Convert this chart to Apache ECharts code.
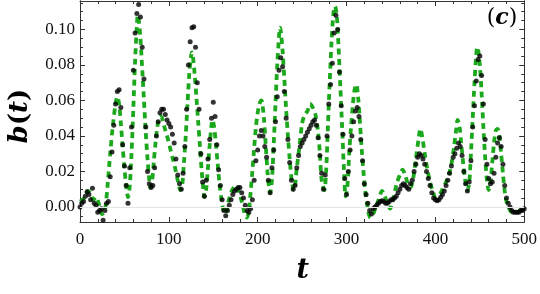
<!DOCTYPE html>
<html>
<head>
<meta charset="utf-8">
<script src="https://cdn.jsdelivr.net/npm/echarts@6/dist/echarts.min.js"></script>
<style>html,body{margin:0;padding:0;background:#fff}#c{width:540px;height:294px}</style>
</head>
<body>
<div id="c"></div>
<script>
// ---- data ----
const xTicks = [0, 100, 200, 300, 400, 500];
const yMajor = [0, 0.02, 0.04, 0.06, 0.08, 0.10];
const yMinor = [-0.005, 0.005, 0.01, 0.015, 0.025, 0.03, 0.035, 0.045, 0.05, 0.055, 0.065, 0.07, 0.075, 0.085, 0.09, 0.095, 0.105, 0.11, 0.115];

// green dashed curve [t, b]
const greenCurve = [[0,0.003],[3,0.004],[6,0.006],[9,0.009],[12,0.0075],[15,0.004],[18,0.0055],[21,0.002],[25,-0.004],[28,-0.002],[31,0.012],[34,0.030],[37,0.046],[40,0.058],[42,0.062],[44,0.058],[46,0.047],[48,0.034],[50,0.022],[52,0.012],[54,0.0055],[56,0.012],[58,0.030],[60,0.055],[62,0.082],[64,0.102],[65,0.108],[66,0.106],[68,0.095],[70,0.078],[72,0.060],[74,0.042],[76,0.027],[78,0.015],[79,0.011],[81,0.014],[83,0.025],[85,0.036],[87,0.045],[89,0.050],[91,0.051],[93,0.049],[95,0.045],[98,0.040],[101,0.034],[104,0.028],[107,0.022],[110,0.015],[113,0.0095],[115,0.012],[117,0.025],[119,0.040],[121,0.058],[123,0.075],[125,0.085],[126,0.087],[127,0.085],[129,0.075],[131,0.062],[133,0.048],[135,0.034],[137,0.020],[139,0.009],[140,0.0055],[142,0.010],[144,0.022],[146,0.035],[148,0.046],[149,0.049],[151,0.045],[153,0.035],[155,0.024],[157,0.013],[159,0.005],[161,-0.001],[163,-0.004],[165,-0.002],[167,0.003],[170,0.008],[173,0.011],[176,0.012],[178,0.010],[181,0.005],[184,-0.001],[186,-0.005],[188,-0.006],[190,-0.002],[192,0.008],[194,0.020],[196,0.033],[198,0.045],[200,0.053],[202,0.058],[204,0.060],[205,0.059],[207,0.050],[209,0.035],[211,0.020],[213,0.010],[214,0.008],[216,0.015],[218,0.035],[220,0.058],[222,0.080],[224,0.096],[225,0.101],[226,0.099],[228,0.088],[230,0.072],[232,0.055],[234,0.040],[236,0.027],[238,0.016],[240,0.010],[241,0.0095],[244,0.022],[247,0.034],[250,0.047],[253,0.052],[256,0.054],[259,0.058],[262,0.056],[265,0.052],[268,0.042],[270,0.030],[272,0.015],[275,0.0095],[277,0.020],[279,0.045],[281,0.070],[283,0.092],[285,0.108],[287,0.113],[289,0.108],[291,0.090],[293,0.068],[295,0.045],[297,0.022],[299,0.006],[301,0.012],[303,0.030],[305,0.045],[307,0.057],[309,0.066],[311,0.069],[313,0.062],[315,0.048],[317,0.033],[319,0.020],[321,0.009],[323,0.002],[325,-0.004],[327,-0.006],[330,-0.004],[333,0.000],[336,0.004],[340,0.009],[343,0.006],[346,0.002],[349,-0.001],[352,0.004],[355,0.010],[357,0.014],[360,0.018],[363,0.021],[366,0.018],[369,0.013],[372,0.011],[375,0.016],[378,0.027],[381,0.038],[383,0.044],[385,0.040],[388,0.030],[391,0.021],[394,0.014],[397,0.009],[400,0.0055],[403,0.006],[406,0.008],[409,0.011],[412,0.014],[415,0.018],[418,0.024],[421,0.034],[423,0.042],[425,0.049],[427,0.046],[429,0.036],[431,0.026],[433,0.017],[435,0.011],[436,0.0095],[438,0.013],[440,0.030],[442,0.050],[444,0.070],[446,0.086],[447,0.090],[448,0.089],[450,0.080],[452,0.064],[454,0.045],[456,0.028],[458,0.015],[460,0.0095],[462,0.014],[464,0.025],[466,0.036],[468,0.043],[470,0.044],[472,0.040],[474,0.030],[476,0.019],[478,0.009],[480,0.003],[483,-0.001],[486,-0.003],[489,-0.003],[492,-0.003],[495,-0.002],[498,-0.001],[500,0.000]];

// black sample dots [t, b]
const blackDots = [[0,0.000],[2,0.002],[4,0.003],[6,0.006],[8,0.0085],[10,0.007],[12,0.004],[14,0.0105],[16,0.002],[18,0.001],[20,-0.003],[22,-0.002],[24,-0.001],[26,-0.0075],[28,-0.002],[30,0.002],[32,0.003],[34,0.017],[36,0.031],[38,0.046],[40,0.058],[42,0.065],[44,0.066],[46,0.056],[48,0.035],[50,0.023],[52,0.012],[54,0.002],[56,0.022],[58,0.045],[60,0.077],[62,0.098],[64,0.109],[66,0.114],[68,0.107],[70,0.090],[72,0.072],[74,0.045],[76,0.020],[78,0.013],[80,0.011],[82,0.012],[84,0.022],[86,0.040],[88,0.048],[90,0.053],[92,0.055],[94,0.055],[96,0.052],[98,0.049],[100,0.047],[102,0.045],[104,0.041],[106,0.036],[108,0.027],[110,0.018],[112,0.013],[114,0.010],[116,0.019],[118,0.034],[120,0.055],[122,0.080],[124,0.093],[126,0.101],[128,0.1015],[130,0.090],[132,0.070],[134,0.055],[136,0.030],[138,0.014],[140,0.006],[142,0.015],[144,0.027],[146,0.038],[148,0.050],[150,0.059],[152,0.051],[154,0.035],[156,0.021],[158,0.012],[160,0.004],[162,-0.002],[164,-0.005],[166,-0.002],[168,0.001],[170,0.004],[172,0.007],[174,0.009],[176,0.010],[178,0.011],[180,0.011],[182,0.008],[184,0.005],[186,0.001],[188,-0.002],[190,-0.003],[192,-0.001],[194,0.004],[196,0.015],[198,0.026],[200,0.032],[202,0.040],[204,0.043],[206,0.040],[208,0.034],[210,0.028],[212,0.015],[214,0.008],[216,0.022],[218,0.032],[220,0.048],[222,0.062],[224,0.077],[226,0.084],[228,0.079],[230,0.065],[232,0.050],[234,0.038],[236,0.025],[238,0.015],[240,0.010],[242,0.012],[244,0.022],[246,0.029],[248,0.034],[250,0.036],[252,0.038],[254,0.040],[256,0.042],[258,0.044],[260,0.046],[262,0.048],[264,0.049],[266,0.046],[268,0.039],[270,0.029],[272,0.019],[274,0.010],[276,0.018],[278,0.040],[280,0.058],[282,0.069],[284,0.081],[286,0.098],[288,0.108],[290,0.100],[292,0.076],[294,0.057],[296,0.041],[298,0.016],[300,0.007],[302,0.020],[304,0.032],[306,0.040],[308,0.048],[310,0.054],[312,0.056],[314,0.051],[316,0.038],[318,0.026],[320,0.013],[322,0.007],[324,0.002],[326,-0.002],[328,-0.004],[330,-0.001],[332,0.000],[334,0.001],[336,0.002],[338,0.003],[340,0.0035],[342,0.003],[344,0.002],[346,0.002],[348,0.003],[350,0.004],[352,0.004],[354,0.005],[356,0.006],[358,0.008],[360,0.010],[362,0.012],[364,0.013],[366,0.012],[368,0.011],[370,0.010],[372,0.013],[374,0.015],[376,0.020],[378,0.024],[380,0.028],[382,0.030],[384,0.029],[386,0.027],[388,0.024],[390,0.020],[392,0.016],[394,0.012],[396,0.008],[398,0.005],[400,0.004],[402,0.0035],[404,0.004],[406,0.0055],[408,0.007],[410,0.009],[412,0.012],[414,0.015],[416,0.019],[418,0.023],[420,0.028],[422,0.030],[424,0.033],[426,0.036],[428,0.034],[430,0.029],[432,0.020],[434,0.013],[436,0.009],[438,0.014],[440,0.026],[442,0.045],[444,0.057],[446,0.071],[448,0.083],[450,0.085],[452,0.074],[454,0.058],[456,0.038],[458,0.024],[460,0.016],[462,0.013],[464,0.014],[466,0.019],[468,0.028],[470,0.036],[472,0.039],[474,0.034],[476,0.024],[478,0.012],[480,0.005],[482,0.002],[484,0.000],[486,-0.002],[488,-0.003],[490,-0.003],[492,-0.003],[494,-0.003],[496,-0.002],[498,-0.002],[500,-0.001]];

// ---- chart ----
const AX = '#333';
const FONT = 'Liberation Serif';
const chart = echarts.init(document.getElementById('c'), null, {renderer: 'canvas'});
const lbl = {fontFamily: FONT, fontSize: 17, color: '#111'};
function xAx(pos, showLabel) {
  return {
    type: 'value', position: pos, min: 0, max: 500, interval: 100,
    axisLine: {show: true, onZero: false, lineStyle: {color: AX, width: 1}},
    axisTick: {show: true, inside: true, length: 5, lineStyle: {color: AX}},
    minorTick: {show: true, splitNumber: 5, length: 3, lineStyle: {color: AX}},
    axisLabel: Object.assign({show: showLabel, margin: 9}, lbl),
    splitLine: {show: false}
  };
}
function yAx(pos, vals, len, showLabel) {
  return {
    type: 'value', position: pos, min: -0.0085, max: 0.116,
    axisLine: {show: true, onZero: false, lineStyle: {color: AX, width: 1}},
    axisTick: {show: true, inside: true, length: len, customValues: vals, lineStyle: {color: AX}},
    axisLabel: Object.assign({show: showLabel, customValues: vals, margin: 5,
      formatter: v => v.toFixed(2)}, lbl),
    splitLine: {show: false}
  };
}
chart.setOption({
  animation: false,
  grid: {left: 80, right: 15, top: 1, bottom: 72, containLabel: false},
  xAxis: [xAx('bottom', true), xAx('top', false)],
  yAxis: [yAx('left', yMajor, 5, true), yAx('left', yMinor, 3, false),
          yAx('right', yMajor, 5, false), yAx('right', yMinor, 3, false)],
  series: [
    {type: 'line', data: [], xAxisIndex: 0, yAxisIndex: 0, z: 1, silent: true,
     markLine: {silent: true, symbol: 'none', label: {show: false},
       lineStyle: {color: '#e4e4e4', width: 1.2, type: 'solid'}, data: [{yAxis: 0}]}},
    {type: 'line', data: greenCurve, xAxisIndex: 0, yAxisIndex: 0, z: 2,
     showSymbol: false, smooth: 0.3,
     lineStyle: {color: '#1ca81c', width: 3.8, type: [6, 4.5], cap: 'butt'}},
    {type: 'scatter', data: blackDots, xAxisIndex: 0, yAxisIndex: 0, z: 3,
     symbol: 'circle', symbolSize: 5, itemStyle: {color: '#000'}}
  ],
  graphic: [
    {type: 'text', x: 20, y: 116, rotation: Math.PI / 2,
     style: {text: '{i|b}{n|(}{i|t}{n|)}', align: 'center', verticalAlign: 'middle',
       rich: {i: {fontFamily: 'DejaVu Serif', fontWeight: 'bold', fontStyle: 'italic', fontSize: 26, fill: '#000'},
              n: {fontFamily: 'DejaVu Serif', fontWeight: 'bold', fontSize: 26, fill: '#000'}}}},
    {type: 'text', x: 302.7, y: 271,
     style: {text: 't', align: 'center', verticalAlign: 'middle', fontFamily: 'DejaVu Serif',
       fontWeight: 'bold', fontStyle: 'italic', fontSize: 27, fill: '#000'}},
    {type: 'text', x: 502, y: 18,
     style: {text: '{n|(}{i|c}{n|)}', align: 'center', verticalAlign: 'middle',
       rich: {i: {fontFamily: 'DejaVu Serif', fontWeight: 'bold', fontStyle: 'italic', fontSize: 22, fill: '#000'},
              n: {fontFamily: 'DejaVu Serif', fontSize: 22, fill: '#000'}}}}
  ]
});
</script>
</body>
</html>
